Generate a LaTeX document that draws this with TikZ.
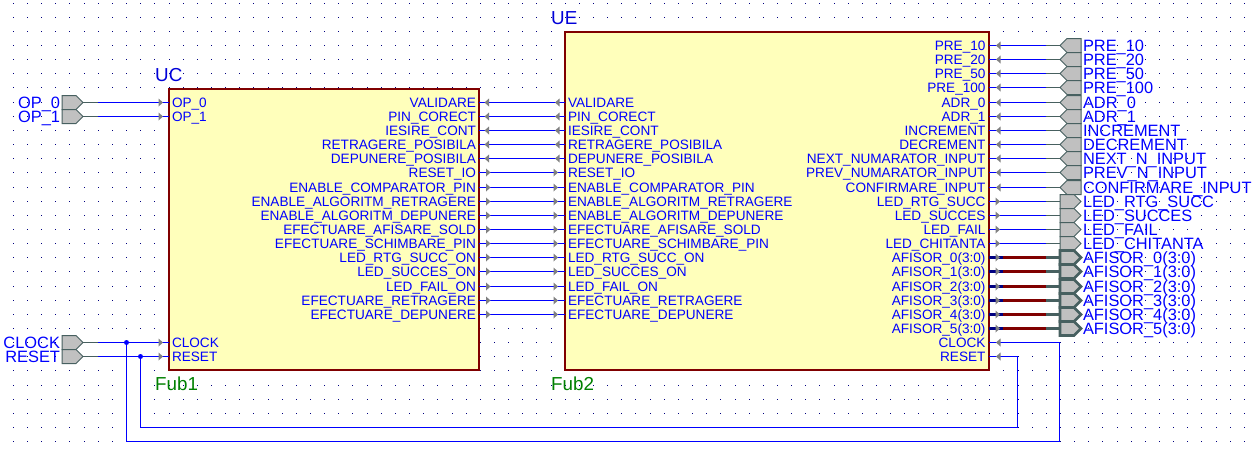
\documentclass[tikz,border=0pt]{standalone}
\usepackage{fontspec}
\setmainfont{Liberation Sans}
\usepackage{tikz}
\usetikzlibrary{decorations.markings,shapes.symbols}

\definecolor{blkred}{HTML}{800000}
\definecolor{blkfill}{HTML}{FFFFBB}
\definecolor{wireblue}{HTML}{0000FF}
\definecolor{busnavy}{HTML}{000080}
\definecolor{portedge}{HTML}{476060}
\definecolor{portfill}{HTML}{C0C0C0}
\definecolor{trifill}{HTML}{808080}
\definecolor{griddot}{HTML}{000080}

\begin{document}
\begin{tikzpicture}[
    x=1pt, y=-1pt,
    declare function={rowy(\n)=floor(45.52+14.15*\n)+0.5;},
    blk/.style={draw=blkred, fill=blkfill, line width=2pt, anchor=north west,
                inner sep=0pt, outer sep=0pt},
    pinlab/.style={text=wireblue, inner sep=0pt, outer sep=0pt, text height=9.6pt,
                   text depth=0pt, font=\fontsize{13.6pt}{14pt}\selectfont},
    portlab/.style={text=wireblue, inner sep=0pt, outer sep=0pt, text height=11.6pt,
                    text depth=0pt, font=\fontsize{16.4pt}{17pt}\selectfont},
    blklab/.style={inner sep=0pt, anchor=west, font=\fontsize{18.8pt}{20pt}\selectfont},
    port/.style={shape=signal, draw=portedge, fill=portfill, line width=1pt,
                 signal pointer angle=90, minimum width=21pt, minimum height=14pt,
                 inner sep=0pt, outer sep=0pt},
    inport/.style={port, signal to=west, anchor=east},
    outport/.style={port, signal to=east, anchor=west},
    busport/.style={outport, line width=2.6pt},
    wire/.style={draw=wireblue, line width=1pt},
    stubline/.style={draw=portedge, line width=1pt},
    busstub/.style={draw=portedge, line width=2.6pt},
    busred/.style={draw=blkred, line width=2.6pt},
    busnavy/.style={draw=busnavy, line width=2.6pt},
    tipmark/.style={postaction={decorate, decoration={markings, mark=at position #1 with
        {\fill[trifill] (-4.5,-4) -- (0,0) -- (-4.5,4) -- cycle;}}}},
    jdot/.style={circle, fill=wireblue, inner sep=0pt, minimum size=5pt}]

  \useasboundingbox[fill=white] (0,0) rectangle (1255,450);

  % raster of the sheet
  \foreach \gx in {0,...,88}
    \foreach \gy in {-3,...,28}
      \fill[griddot] ({floor(13.4+14.15*\gx)},{floor(45.52+14.15*\gy)}) rectangle ++(1,1);

  \node[blk, minimum width=309.5pt, minimum height=280.5pt] (uc) at (169,89) {};
  \node[blk, minimum width=424pt, minimum height=337.5pt] (ue) at (565,32) {};
  \node[blklab, text=wireblue!85!black] (ucname) at (155,75) {UC};
  \node[blklab, text=wireblue!85!black] (uename) at (551,18) {UE};
  \node[blklab, text=green!50!black] (fub1) at (155,384) {Fub1};
  \node[blklab, text=green!50!black] (fub2) at (551,384) {Fub2};

  % pins between the two blocks
  \foreach \lab [count=\k from 4] in {VALIDARE, PIN\_CORECT, IESIRE\_CONT,
      RETRAGERE\_POSIBILA, DEPUNERE\_POSIBILA, RESET\_IO, ENABLE\_COMPARATOR\_PIN,
      ENABLE\_ALGORITM\_RETRAGERE, ENABLE\_ALGORITM\_DEPUNERE,
      EFECTUARE\_AFISARE\_SOLD, EFECTUARE\_SCHIMBARE\_PIN, LED\_RTG\_SUCC\_ON,
      LED\_SUCCES\_ON, LED\_FAIL\_ON, EFECTUARE\_RETRAGERE, EFECTUARE\_DEPUNERE} {
    \node[pinlab, anchor=east] (ucR\k) at (476,{rowy(\k)}) {\lab};
    \node[pinlab, anchor=west] (ueL\k) at (568,{rowy(\k)}) {\lab};
  }
  \foreach \k in {4,...,8}
    \draw[wire, tipmark=10pt, tipmark=-6pt] (ue.west |- ueL\k) -- (uc.east |- ucR\k);
  \foreach \k in {9,...,19}
    \draw[wire, tipmark=12pt, tipmark=-7pt] (uc.east |- ucR\k) -- (ue.west |- ueL\k);

  % inputs of UC
  \foreach \lab/\pn/\ro in {OP\_0/op0/4, OP\_1/op1/5, CLOCK/clk/21, RESET/rst/22} {
    \node[pinlab, anchor=west] (ucL\pn) at (172,{rowy(\ro)}) {\lab};
    \node[outport] (p\pn) at (62,{rowy(\ro)}) {};
    \node[portlab, anchor=east] (t\pn) at (60,{rowy(\ro)}) {\lab};
    \draw[wire, tipmark=-6pt] (p\pn.east) -- (uc.west |- ucL\pn);
    \draw[stubline] (p\pn.east) -- ++(15,0);
  }

  % right side of UE
  \foreach \lab [count=\k from 0] in {PRE\_10, PRE\_20, PRE\_50, PRE\_100, ADR\_0, ADR\_1,
      INCREMENT, DECREMENT, NEXT\_NUMARATOR\_INPUT, PREV\_NUMARATOR\_INPUT,
      CONFIRMARE\_INPUT, LED\_RTG\_SUCC, LED\_SUCCES, LED\_FAIL, LED\_CHITANTA,
      AFISOR\_0(3:0), AFISOR\_1(3:0), AFISOR\_2(3:0), AFISOR\_3(3:0), AFISOR\_4(3:0),
      AFISOR\_5(3:0), CLOCK, RESET}
    \node[pinlab, anchor=east] (ueR\k) at (985.5,{rowy(\k)}) {\lab};
  \foreach \lab [count=\k from 0] in {PRE\_10, PRE\_20, PRE\_50, PRE\_100, ADR\_0, ADR\_1,
      INCREMENT, DECREMENT, NEXT\_N\_INPUT, PREV\_N\_INPUT, CONFIRMARE\_INPUT} {
    \node[inport] (pR\k) at (1081,{rowy(\k)}) {};
    \node[portlab, anchor=west] (tR\k) at (1083,{rowy(\k)}) {\lab};
    \draw[wire, tipmark=-7pt] (pR\k.west) -- (ue.east |- ueR\k);
    \draw[stubline] (pR\k.west) -- ++(-14,0);
  }
  \foreach \lab [count=\k from 11] in {LED\_RTG\_SUCC, LED\_SUCCES, LED\_FAIL, LED\_CHITANTA} {
    \node[outport] (pR\k) at (1060,{rowy(\k)}) {};
    \node[portlab, anchor=west] (tR\k) at (1083,{rowy(\k)}) {\lab};
    \draw[wire, tipmark=11pt] (ue.east |- ueR\k) -- (pR\k.west);
    \draw[stubline] (pR\k.west) -- ++(-14,0);
  }
  \foreach \lab [count=\k from 15] in {AFISOR\_0(3:0), AFISOR\_1(3:0), AFISOR\_2(3:0),
      AFISOR\_3(3:0), AFISOR\_4(3:0), AFISOR\_5(3:0)} {
    \node[busport] (pR\k) at (1060,{rowy(\k)}) {};
    \node[portlab, anchor=west] (tR\k) at (1083,{rowy(\k)}) {\lab};
    \draw[busred] (ue.east |- ueR\k) -- (pR\k.west);
    \draw[busnavy, tipmark=11pt] (ue.east |- ueR\k) -- ++(14,0);
    \draw[busstub] (pR\k.west) -- ++(-14,0);
  }

  % feedback of clock and reset
  \node[jdot] (jclk) at (126.5,{rowy(21)}) {};
  \node[jdot] (jrst) at (140.5,{rowy(22)}) {};
  \coordinate (clkturn) at (1059.5,441.5);
  \coordinate (rstturn) at (1017.5,427.5);
  \draw[wire, tipmark=-7pt] (jclk.center) |- (clkturn) |- (ue.east |- ueR21);
  \draw[wire, tipmark=-7pt] (jrst.center) |- (rstturn) |- (ue.east |- ueR22);
\end{tikzpicture}
\end{document}
